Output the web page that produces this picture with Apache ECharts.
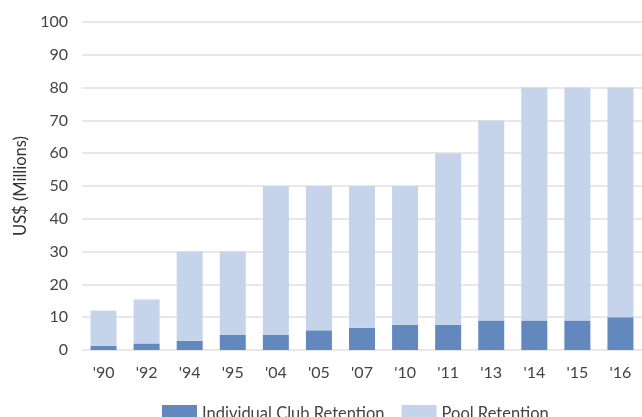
<!DOCTYPE html>
<html><head><meta charset="utf-8">
<script src="https://cdn.jsdelivr.net/npm/echarts@6/dist/echarts.min.js"></script>
<style>html,body{margin:0;padding:0;background:#fff}#c{width:642px;height:417px}</style>
</head><body><div id="c"></div>
<script>
const categories = ["'90","'92","'94","'95","'04","'05","'07","'10","'11","'13","'14","'15","'16"];
const individualClub = [1.3, 2, 2.8, 4.6, 4.6, 6, 6.8, 7.7, 7.7, 9, 9, 9, 10];
const poolRetention = [10.7, 13.4, 27.2, 25.4, 45.4, 44, 43.2, 42.3, 52.3, 61, 71, 71, 70];
const yTicks = [0,10,20,30,40,50,60,70,80,90,100];

const chart = echarts.init(document.getElementById('c'), null, {renderer:'canvas'});
const font = 'Lato, "Noto Sans", sans-serif';
chart.setOption({
  animation:false,
  grid:{left:82, top:22, width:564, height:328, containLabel:false},
  legend:{
    top:400, left:157, itemWidth:35, itemHeight:17, itemGap:17,
    icon:'rect',
    textStyle:{fontFamily:font, fontSize:16.5, color:'#444'},
    data:['Individual Club Retention','Pool Retention']
  },
  xAxis:{
    type:'category', data:categories,
    axisLine:{show:false}, axisTick:{show:false},
    axisLabel:{fontFamily:font, fontSize:16, color:'#444', margin:15}
  },
  yAxis:{
    type:'value', min:yTicks[0], max:yTicks[yTicks.length-1], interval:10,
    name:'US$ (Millions)', nameLocation:'middle', nameGap:50, nameRotate:90,
    nameTextStyle:{fontFamily:font, fontSize:16.5, color:'#333'},
    axisLabel:{fontFamily:font, fontSize:16, color:'#444', margin:14},
    splitLine:{lineStyle:{color:'#e0e0e0', width:1.5}},
    axisLine:{show:false}, axisTick:{show:false}
  },
  series:[
    {name:'Individual Club Retention', type:'bar', stack:'a', data:individualClub, barWidth:26,
     itemStyle:{color:'#6388bd'}},
    {name:'Pool Retention', type:'bar', stack:'a', data:poolRetention, barWidth:26,
     itemStyle:{color:'#c5d4ea'}}
  ]
});
</script></body></html>
